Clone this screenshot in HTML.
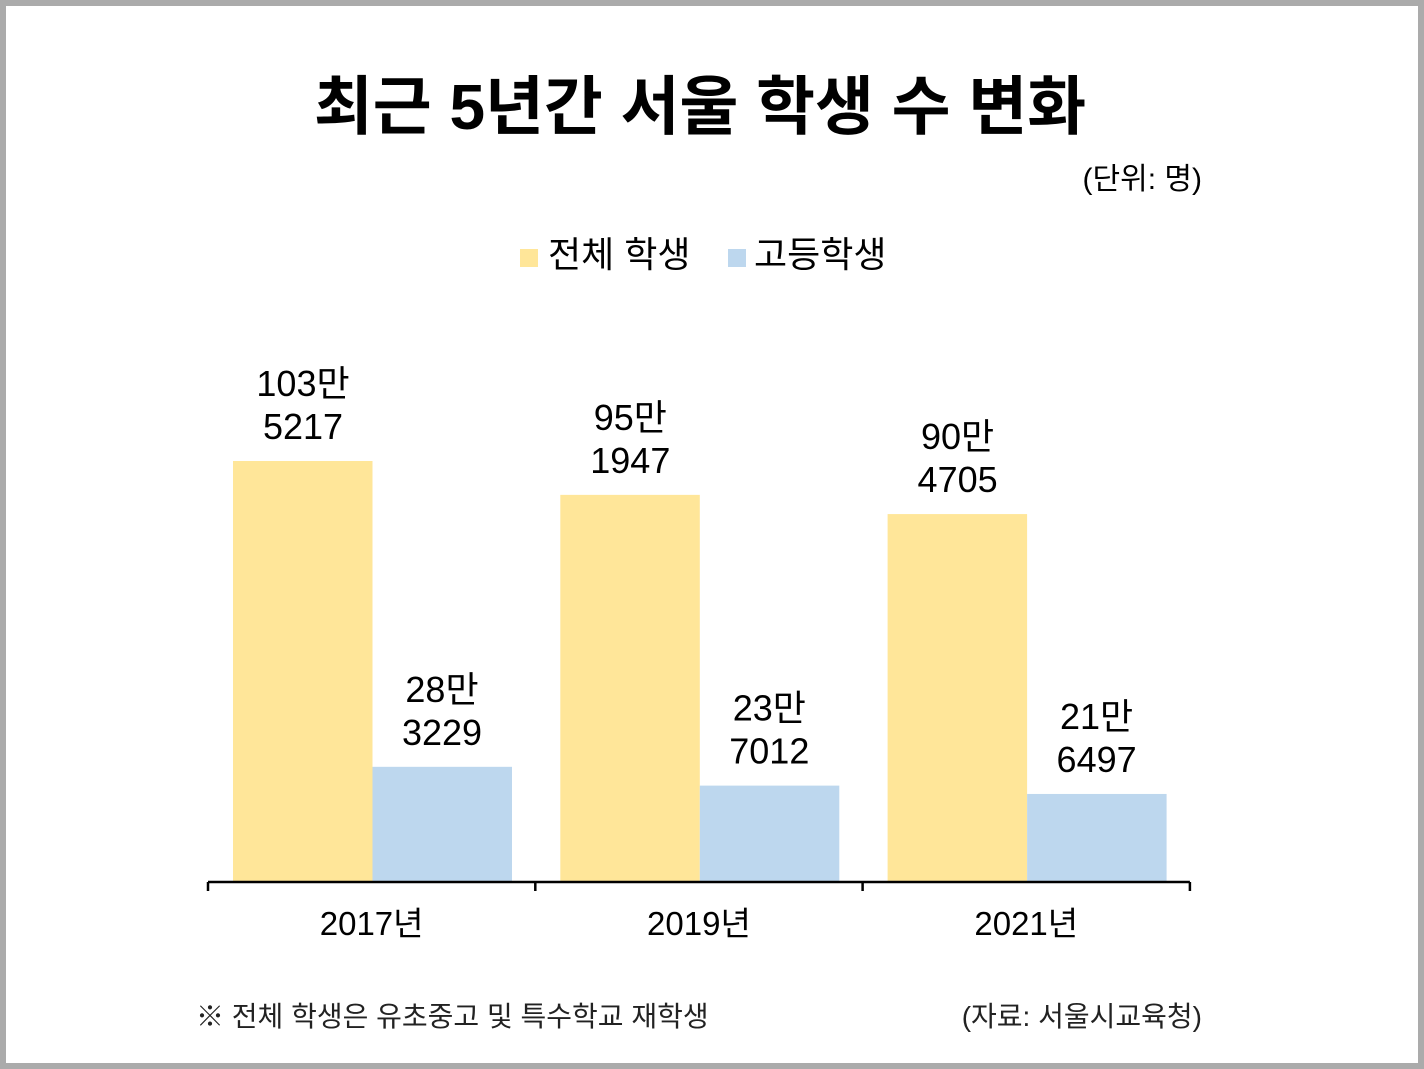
<!DOCTYPE html>
<html><head><meta charset="utf-8"><style>
body{margin:0;width:1424px;height:1069px;overflow:hidden;background:#fff;font-family:"Liberation Sans","Noto Sans CJK KR",sans-serif}
#frame{position:absolute;left:0;top:0;width:1412px;height:1057px;border:6px solid #ABABAB;background:#fff}
.t{position:absolute;white-space:nowrap;color:#000}
</style></head><body>
<div id="frame"></div>
<div class="t" style="left:0;width:1400px;top:56px;text-align:center;font-size:64px;font-weight:bold">최근 5년간 서울 학생 수 변화</div>
<div class="t" style="right:222px;top:154px;font-size:30px">(단위: 명)</div>
<div class="t" style="left:520px;top:226px;font-size:36px"><span style="display:inline-block;width:18px;height:18px;background:#FFE699;margin-right:10px"></span>전체 학생</div>
<div class="t" style="left:728px;top:226px;font-size:36px"><span style="display:inline-block;width:18px;height:18px;background:#BDD7EE;margin-right:8px"></span>고등학생</div>
<svg id="chart" width="1424" height="1069" style="position:absolute;left:0;top:0"></svg>
<div class="t" style="left:196px;top:995px;font-size:28px;color:#222">※ 전체 학생은 유초중고 및 특수학교 재학생</div>
<div class="t" style="right:222px;top:995px;font-size:28px;color:#222">(자료: 서울시교육청)</div>
<script>
const categories=["2017년","2019년","2021년"];
const totalStudents=[1035217,951947,904705];
const highStudents=[283229,237012,216497];
const totalLabels=[["103만","5217"],["95만","1947"],["90만","4705"]];
const highLabels=[["28만","3229"],["23만","7012"],["21만","6497"]];
const svg=document.getElementById('chart');
const NS="http://www.w3.org/2000/svg";
const x0=208,groupW=327.3,baseY=882,scale=421/1035217;
const y=v=>baseY-v*scale;
const gx=i=>x0+i*groupW;
function mk(tag,attrs){const e=document.createElementNS(NS,tag);for(const k in attrs)e.setAttribute(k,attrs[k]);svg.appendChild(e);return e;}
function label(cx,top,lines,name){
  lines.forEach((s,j)=>{const t=mk('text',{x:cx,y:top-22-(lines.length-1-j)*43,'text-anchor':'middle','font-size':36,fill:'#000','font-family':'"Liberation Sans","Noto Sans CJK KR",sans-serif'});
  
  
  t.textContent=s;});
}
categories.forEach((c,i)=>{
  const bx=gx(i)+25;
  const r1=mk('rect',{x:bx,y:y(totalStudents[i]),width:139.5,height:baseY-y(totalStudents[i]),fill:'#FFE699'});
  
  
  const r2=mk('rect',{x:bx+139.5,y:y(highStudents[i]),width:139.5,height:baseY-y(highStudents[i]),fill:'#BDD7EE'});
  
  
  label(bx+70,y(totalStudents[i]),totalLabels[i],'value-label-total');
  label(bx+209,y(highStudents[i]),highLabels[i],'value-label-high');
  const t=mk('text',{x:gx(i)+groupW/2,y:935,'text-anchor':'middle','font-size':33,fill:'#000','font-family':'"Liberation Sans","Noto Sans CJK KR",sans-serif'});
  
  
  t.textContent=c;
});
const ax=mk('line',{x1:x0,y1:baseY,x2:x0+3*groupW,y2:baseY,stroke:'#000','stroke-width':2.5});


for(let i=0;i<=3;i++){const tk=mk('line',{x1:gx(i),y1:baseY,x2:gx(i),y2:891,stroke:'#000','stroke-width':2.5});

}
</script>
</body></html>
